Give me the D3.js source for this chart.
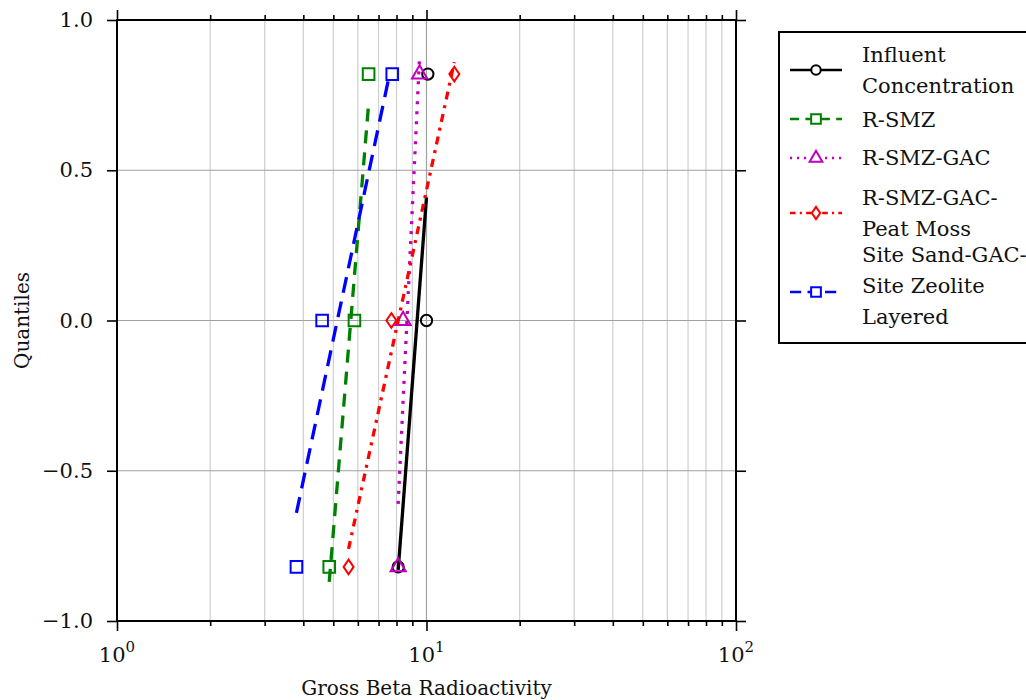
<!DOCTYPE html>
<html>
<head>
<meta charset="utf-8">
<script src="https://cdn.jsdelivr.net/npm/d3@7"></script>
<style>
  body { margin: 0; background: #fff; }
  svg { display: block; font-family: "DejaVu Serif", serif; }
</style>
</head>
<body>
<svg id="chart" width="1026" height="700"></svg>
<script>
// ---------- data ----------
const seriesNames = ["Influent Concentration", "R-SMZ", "R-SMZ-GAC", "R-SMZ-GAC-Peat Moss", "Site Sand-GAC-Site Zeolite Layered"];
const legendLines = [["Influent", "Concentration"], ["R-SMZ"], ["R-SMZ-GAC"], ["R-SMZ-GAC-", "Peat Moss"], ["Site Sand-GAC-", "Site Zeolite", "Layered"]];
const quantiles = [-0.82, 0.0, 0.82];
const influentValues = [8.1, 10.0, 10.1];
const rsmzValues = [4.85, 5.85, 6.5];
const rsmzGacValues = [8.1, 8.4, 9.5];
const peatMossValues = [5.6, 7.7, 12.3];
const siteValues = [3.8, 4.6, 7.75];
// fitted-line endpoints [x, quantile]
const influentFit = [[8.1, -0.83], [10.0, 0.41]];
const rsmzFit = [[4.85, -0.87], [6.5, 0.72]];
const rsmzGacFit = [[8.1, -0.61], [9.5, 0.88]];
const peatMossFit = [[5.6, -0.76], [12.3, 0.86]];
const siteFit = [[3.8, -0.64], [7.6, 0.82]];
const yTicks = [-1.0, -0.5, 0.0, 0.5, 1.0];
const xMajorTicks = [1, 10, 100];
const xTickExponents = ["0", "1", "2"];
const xMinorTicks = [2, 3, 4, 5, 6, 7, 8, 9, 20, 30, 40, 50, 60, 70, 80, 90];
const xLabel = "Gross Beta Radioactivity";
const yLabel = "Quantiles";

const seriesValues = [influentValues, rsmzValues, rsmzGacValues, peatMossValues, siteValues];
const seriesFits = [influentFit, rsmzFit, rsmzGacFit, peatMossFit, siteFit];

// ---------- styles ----------
const colors = ["#000000", "#008000", "#bf00bf", "#ff0000", "#0000ff"];
const dashes = [null, "13,9", "3,7", "8,6,3,6", "16,9"];

// custom thin diamond symbol
const thinDiamond = {
  draw(ctx, size) {
    const h = Math.sqrt(size) * 0.62, w = h * 0.68;
    ctx.moveTo(0, -h); ctx.lineTo(w, 0); ctx.lineTo(0, h); ctx.lineTo(-w, 0); ctx.closePath();
  }
};
const symbols = [d3.symbolCircle, d3.symbolSquare, d3.symbolTriangle, thinDiamond, d3.symbolSquare];
const symbolSizes = [100, 135, 100, 140, 135];

const svg = d3.select("#chart");
const L = 117, R = 736, T = 20, B = 621;
const x = d3.scaleLog().domain([1, 100]).range([L, R]);
const y = d3.scaleLinear().domain([-1, 1]).range([B, T]);

// ---------- grid ----------
const grid = svg.append("g");
grid.selectAll("line.vminor").data(xMinorTicks).join("line")
  .attr("x1", d => x(d)).attr("x2", d => x(d)).attr("y1", T).attr("y2", B)
  .attr("stroke", "#cfcfcf").attr("stroke-width", 1.2);
grid.selectAll("line.vmajor").data(xMajorTicks.slice(1, -1)).join("line")
  .attr("x1", d => x(d)).attr("x2", d => x(d)).attr("y1", T).attr("y2", B)
  .attr("stroke", "#a0a0a0").attr("stroke-width", 1.2);
grid.selectAll("line.h").data(yTicks.slice(1, -1)).join("line")
  .attr("x1", L).attr("x2", R).attr("y1", d => y(d)).attr("y2", d => y(d))
  .attr("stroke", "#a0a0a0").attr("stroke-width", 1.2);

// ---------- series ----------
const lineGen = d3.line().x(d => x(d[0])).y(d => y(d[1]));
seriesNames.forEach((name, i) => {
  const g = svg.append("g");
  g.append("path").datum(seriesFits[i]).attr("d", lineGen)
    .attr("fill", "none").attr("stroke", colors[i]).attr("stroke-width", 3.3)
    .attr("stroke-dasharray", dashes[i]);
  g.selectAll("path.m").data(seriesValues[i].map((v, k) => [v, quantiles[k]])).join("path")
    .attr("transform", d => `translate(${x(d[0])},${y(d[1])})`)
    .attr("d", d3.symbol(symbols[i], symbolSizes[i]))
    .attr("fill", "none").attr("stroke", colors[i]).attr("stroke-width", 2);
});

// ---------- axes ----------
function styleAxis(g) {
  g.select(".domain").remove();
  g.selectAll(".tick line").attr("stroke", "#000").attr("stroke-width", 1.6);
  g.selectAll(".tick text").attr("font-family", "DejaVu Serif").attr("font-size", 21).attr("fill", "#111");
}
svg.append("g").attr("transform", `translate(0,${B})`)
  .call(d3.axisBottom(x).tickValues(xMajorTicks).tickSize(10).tickFormat("")).call(styleAxis);
svg.append("g").attr("transform", `translate(0,${B})`)
  .call(d3.axisBottom(x).tickValues(xMinorTicks).tickSize(5).tickFormat("")).call(styleAxis);
svg.append("g").attr("transform", `translate(0,${T})`)
  .call(d3.axisTop(x).tickValues(xMajorTicks).tickSize(10).tickFormat("")).call(styleAxis);
svg.append("g").attr("transform", `translate(0,${T})`)
  .call(d3.axisTop(x).tickValues(xMinorTicks).tickSize(5).tickFormat("")).call(styleAxis);
svg.append("g").attr("transform", `translate(${L},0)`)
  .call(d3.axisLeft(y).tickValues(yTicks).tickSize(10).tickPadding(14).tickFormat(d3.format(".1f"))).call(styleAxis);
svg.append("g").attr("transform", `translate(${R},0)`)
  .call(d3.axisRight(y).tickValues(yTicks).tickSize(10).tickFormat("")).call(styleAxis);

// spines
svg.append("rect").attr("x", L).attr("y", T).attr("width", R - L).attr("height", B - T)
  .attr("fill", "none").attr("stroke", "#000").attr("stroke-width", 2);

// x tick labels with superscripts
const xl = svg.append("g").attr("font-size", 21).attr("fill", "#111");
xMajorTicks.forEach((v, i) => {
  const t = xl.append("text").attr("x", x(v)).attr("y", 662).attr("text-anchor", "middle");
  t.append("tspan").text("10");
  t.append("tspan").attr("dy", -10).attr("font-size", 15).text(xTickExponents[i]);
});

// axis titles
svg.append("text").attr("x", (L + R) / 2).attr("y", 695).attr("text-anchor", "middle")
  .attr("font-size", 20).attr("fill", "#111").text(xLabel);
svg.append("text").attr("transform", `translate(29,${y(0)}) rotate(-90)`).attr("text-anchor", "middle")
  .attr("font-size", 20).attr("fill", "#111").text(yLabel);

// ---------- legend ----------
const lg = svg.append("g");
lg.append("rect").attr("x", 779).attr("y", 32).attr("width", 270).attr("height", 311)
  .attr("fill", "#fff").attr("stroke", "#000").attr("stroke-width", 2);
const rowY = [70, 119, 158, 213, 292];
const textStartY = [55, 120, 158, 198, 255];
seriesNames.forEach((name, i) => {
  lg.append("line").attr("x1", 790).attr("x2", 842).attr("y1", rowY[i]).attr("y2", rowY[i])
    .attr("stroke", colors[i]).attr("stroke-width", 2.5)
    .attr("stroke-dasharray", dashes[i] ? dashes[i].split(",").map(v => +v * 0.7).join(",") : null);
  lg.append("path").attr("transform", `translate(816,${rowY[i]})`)
    .attr("d", d3.symbol(symbols[i], symbolSizes[i] * 0.7))
    .attr("fill", "#fff").attr("stroke", colors[i]).attr("stroke-width", 2);
  legendLines[i].forEach((txt, k) => {
    lg.append("text").attr("x", 862).attr("y", textStartY[i] + k * 31).attr("dy", "0.35em")
      .attr("font-size", 21).attr("fill", "#111").text(txt);
  });
});
</script>
</body>
</html>
